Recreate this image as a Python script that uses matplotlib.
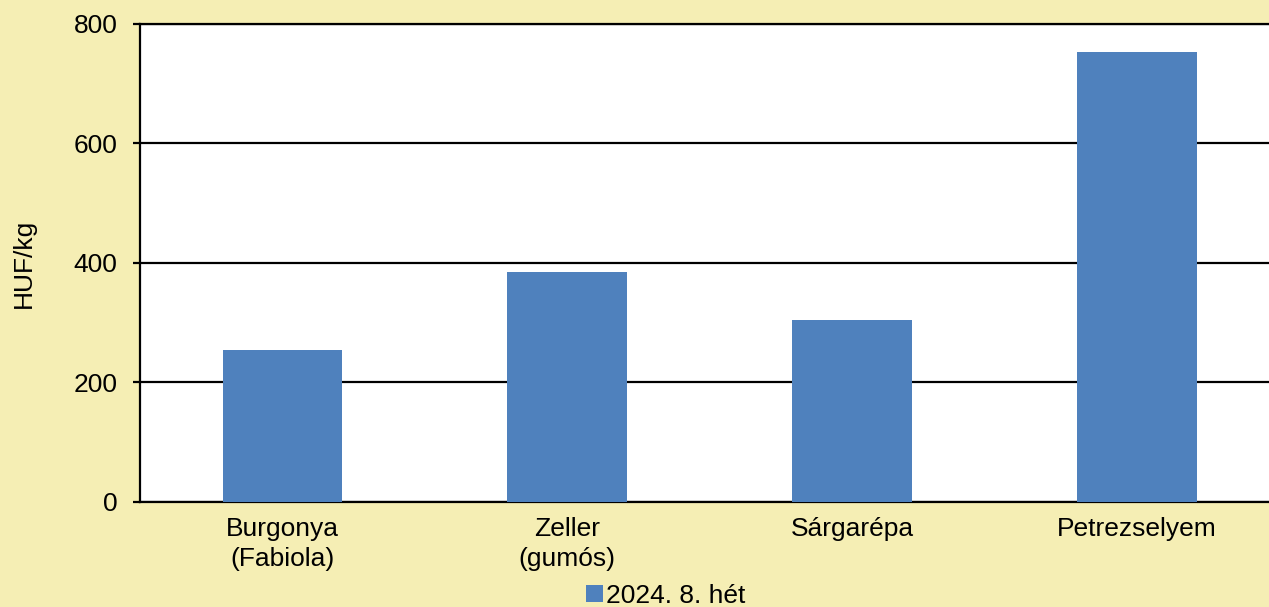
import numpy as np
import matplotlib.pyplot as plt

plt.rcParams['font.family'] = ['Liberation Sans', 'DejaVu Sans']

# data
categories = ['Burgonya\n(Fabiola)', 'Zeller\n(gumós)', 'Sárgarépa', 'Petrezselyem']
prices = [254, 385, 305, 753]
series_label = '2024. 8. hét'

bg = '#F5EEB4'
bar_color = '#4F81BD'

fig = plt.figure(figsize=(12.69, 6.07), dpi=100, facecolor=bg)
# axes runs slightly past the right edge of the picture, as in the original
ax = fig.add_axes([0.1103, 0.173, 0.898, 0.7875])
ax.set_facecolor('white')

index = np.arange(len(categories))
ax.bar(index, prices, 0.42, color=bar_color, label=series_label, zorder=3)

ax.set_xlim(-0.5, len(categories) - 0.5)
ax.set_ylim(0, 800)
ax.set_yticks(np.arange(0, 801, 200))
ax.yaxis.grid(True, color='black', linewidth=1.6, zorder=1)

ax.set_xticks(index)
ax.set_xticklabels(categories, fontsize=19, linespacing=1.3)
ax.tick_params(axis='x', length=0, pad=11)
ax.tick_params(axis='y', labelsize=19, length=5, width=1.6, color='black', pad=11)

ax.set_ylabel('HUF/kg', fontsize=19, labelpad=27)

ax.spines['right'].set_visible(False)
for side in ['left', 'bottom', 'top']:
    ax.spines[side].set_linewidth(1.6)
    ax.spines[side].set_color('black')

ax.legend(loc='center', bbox_to_anchor=(0.461, -0.196), frameon=False, fontsize=19,
          handlelength=0.65, handleheight=0.65, handletextpad=0.1)

fig.savefig('out.png', dpi=100, facecolor=bg)
